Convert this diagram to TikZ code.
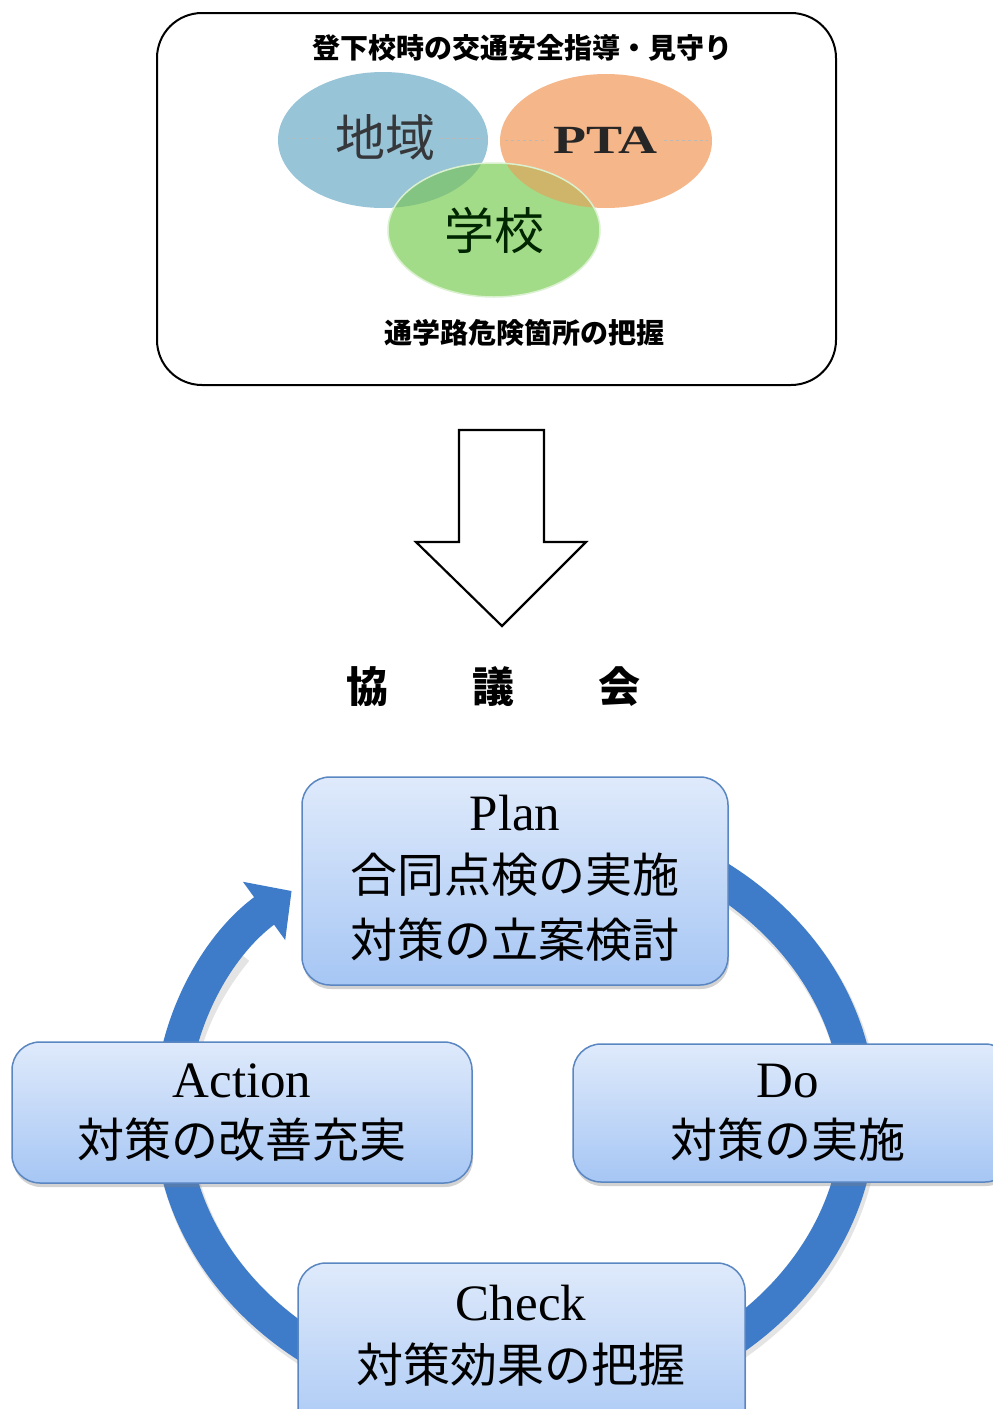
\documentclass[tikz,border=0pt]{standalone}
\usepackage{fontspec}
\usetikzlibrary{arrows.meta,shadows}
\newfontfamily\jp{Noto Sans CJK JP}
\newfontfamily\lat{Liberation Serif}
\definecolor{cycblue}{HTML}{3E7BC8}
\definecolor{boxedge}{HTML}{5A86C2}
\definecolor{boxtop}{HTML}{DFEAFB}
\definecolor{boxbot}{HTML}{A6C6F4}
\definecolor{ellblue}{HTML}{98C4D7}
\definecolor{ellorange}{HTML}{F5B68A}
\definecolor{ellgreen}{HTML}{A3DC88}
\definecolor{bgover}{HTML}{84C482}
\definecolor{ogover}{HTML}{CEB569}
\tikzset{
  pdcabox/.style={draw=boxedge, line width=1.5pt, rounded corners=28pt, inner sep=0pt,
    top color=boxtop, bottom color=boxbot,
    drop shadow={shadow xshift=1pt, shadow yshift=-4pt, opacity=0.35}},
  head/.style={font=\lat\fontsize{51}{60}\selectfont, anchor=base, inner sep=0pt},
  jtext/.style={font=\jp\fontsize{47}{56}\selectfont, inner sep=0pt},
  titletext/.style={font=\jp\bfseries\fontsize{28}{32}\selectfont, inner sep=0pt},
  elltext/.style={font=\jp\fontsize{50}{56}\selectfont, inner sep=0pt, text=black!80},
  faintdash/.style={draw=gray!55, dashed, line width=0.8pt},
}
\begin{document}
\begin{tikzpicture}[x=1pt,y=-1pt]
\useasboundingbox (0,0) rectangle (993,1409);
\fill[white] (0,0) rectangle (993,1409);

% ---------- top box ----------
\node[draw=black, line width=2pt, rounded corners=45pt, fill=white,
      minimum width=679pt, minimum height=372pt, inner sep=0pt] (topbox) at (496.5,199) {};

% ellipses
\fill[ellblue] (383,140) ellipse[x radius=105pt, y radius=68pt];
\fill[ellorange] (606,141) ellipse[x radius=106pt, y radius=67pt];
\fill[ellgreen] (494,230) ellipse[x radius=106pt, y radius=67pt];
\begin{scope}
  \clip (494,230) ellipse[x radius=106pt, y radius=67pt];
  \fill[bgover] (383,140) ellipse[x radius=105pt, y radius=68pt];
  \fill[ogover] (606,141) ellipse[x radius=106pt, y radius=67pt];
\end{scope}
\draw[white!60!ellgreen, line width=1.5pt] (494,230) ellipse[x radius=106pt, y radius=67pt];

\draw[faintdash] (287,138) -- (330,138);
\draw[faintdash] (440,138) -- (484,138);
\draw[faintdash] (505,140) -- (548,140);
\draw[faintdash] (664,140) -- (708,140);

\node[elltext, text=black!70!cyan!40!black] (chiiki) at (385,137) {地域};
\node[font=\lat\bfseries\fontsize{40}{48}\selectfont, inner sep=0pt, text=black!85] (pta) at (605,140) {\scalebox{1.35}[1]{PTA}};
\node[elltext, text=black!75!green!60!black] (gakko) at (494,230) {学校};

\node[titletext] (title1) at (522,48) {登下校時の交通安全指導・見守り};
\node[titletext] (title2) at (524,333) {通学路危険箇所の把握};

% ---------- block arrow ----------
\coordinate (arrtop) at (502,430);
\coordinate (arrtip) at (502,626);
\draw[line width=2.2pt, fill=white, line join=miter]
  (459,430) -- (544,430) -- (544,542) -- (586,542) -- (arrtip) -- (416,542) -- (459,542) -- cycle;

\node[font=\jp\bfseries\fontsize{42}{48}\selectfont, inner sep=0pt] (kyogikai) at (493,687) {協　　議　　会};

% ---------- cycle ----------
\coordinate (cyc) at (515,1113);
\draw[black!30, opacity=0.35, line width=36pt] ([shift={(2,4)}]515,821)
  arc[start angle=90, end angle=-215, x radius=344pt, y radius=292pt];
\draw[cycblue, line width=34pt, -{Triangle[width=70pt,length=34pt]}] (515,821)
  arc[start angle=90, end angle=-229.5, x radius=344pt, y radius=292pt];

% ---------- PDCA boxes ----------
\node[pdcabox, minimum width=426pt, minimum height=208pt] (plan) at (515,881) {};
\node[pdcabox, minimum width=460pt, minimum height=141pt] (action) at (242,1112.5) {};
\node[pdcabox, minimum width=440pt, minimum height=138pt] (do) at (793,1113) {};
\node[pdcabox, minimum width=447pt, minimum height=187pt] (check) at (521.5,1356.5) {};

\node[head] (planh) at (515,830) {Plan};
\node[jtext] (plan1) at (515,875) {合同点検の実施};
\node[jtext] (plan2) at (515,940) {対策の立案検討};

\node[head] (actionh) at (242,1097) {Action};
\node[jtext] (action1) at (242,1140) {対策の改善充実};

\node[head] (doh) at (788,1097) {Do};
\node[jtext] (do1) at (788,1140) {対策の実施};

\node[head] (checkh) at (521,1320) {Check};
\node[jtext] (check1) at (521,1365) {対策効果の把握};
\end{tikzpicture}
\end{document}
